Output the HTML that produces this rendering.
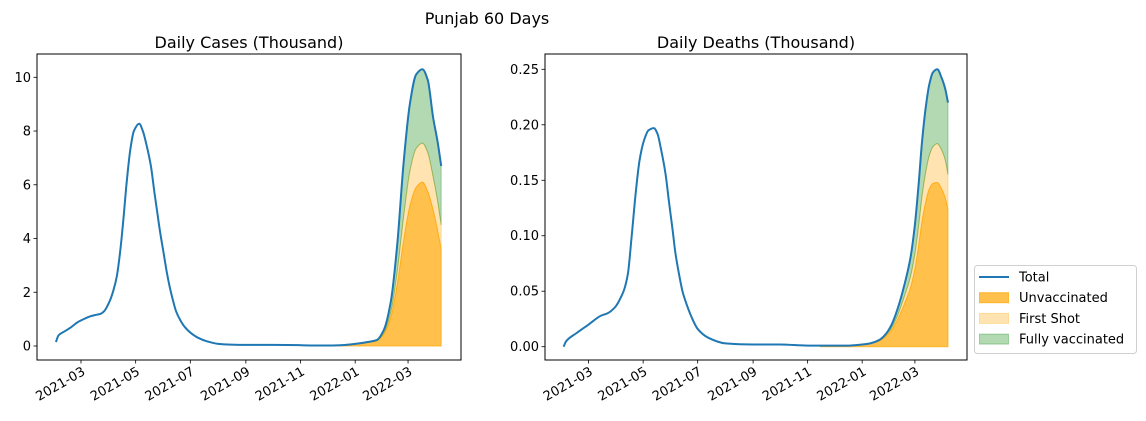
<!DOCTYPE html>
<html><head><meta charset="utf-8">
<style>
html,body{margin:0;padding:0;background:#fff;}
svg{display:block;font-family:"DejaVu Sans","Liberation Sans",sans-serif;}
</style></head>
<body>
<svg id="fig" width="1146" height="421" viewBox="0 0 1146 421" xmlns="http://www.w3.org/2000/svg">
<text x="487" y="24" font-size="16" text-anchor="middle">Punjab 60 Days</text>
</svg>
<script>
// ---- Cases data (thousand) ----
const casesTotalDates = ["2021-02-01","2021-02-04","2021-02-11","2021-02-18","2021-02-25","2021-03-04","2021-03-11","2021-03-18","2021-03-23","2021-03-27","2021-03-30","2021-04-03","2021-04-06","2021-04-10","2021-04-14","2021-04-17","2021-04-21","2021-04-25","2021-04-29","2021-05-05","2021-05-09","2021-05-13","2021-05-18","2021-05-22","2021-05-25","2021-05-28","2021-06-01","2021-06-05","2021-06-08","2021-06-12","2021-06-15","2021-06-20","2021-06-25","2021-07-01","2021-07-10","2021-07-20","2021-08-01","2021-08-15","2021-09-01","2021-10-01","2021-11-01","2021-11-15","2021-12-01","2021-12-15","2022-01-01","2022-01-15","2022-01-25","2022-02-02","2022-02-10","2022-02-17","2022-02-24","2022-03-03","2022-03-10","2022-03-17","2022-03-23","2022-03-29","2022-04-03","2022-04-07"];
const casesTotal = [0.15,0.4,0.55,0.7,0.88,1.0,1.1,1.16,1.2,1.3,1.46,1.75,2.05,2.6,3.6,4.6,6.1,7.3,8.0,8.27,8.0,7.5,6.7,5.7,5.0,4.3,3.5,2.7,2.2,1.65,1.3,0.95,0.7,0.5,0.3,0.17,0.08,0.05,0.04,0.04,0.03,0.02,0.02,0.03,0.08,0.15,0.22,0.6,1.7,3.8,6.8,9.0,10.1,10.3,9.9,8.5,7.6,6.7];
const casesStackDates = ["2021-11-15","2021-12-01","2021-12-15","2022-01-01","2022-01-15","2022-01-25","2022-02-02","2022-02-10","2022-02-17","2022-02-24","2022-03-03","2022-03-10","2022-03-17","2022-03-23","2022-03-29","2022-04-03","2022-04-07"];
const casesUnvac = [0.015,0.02,0.03,0.07,0.13,0.19,0.45,1.1,2.3,3.9,5.2,5.9,6.1,5.75,5.06,4.3,3.6];
const casesFirst = [0.003,0,0,0.005,0.01,0.01,0.05,0.2,0.5,0.9,1.3,1.45,1.45,1.45,1.24,1.1,0.9];
const casesFull = [0.002,0,0,0.005,0.01,0.02,0.1,0.4,1.0,2.0,2.5,2.75,2.75,2.7,2.2,2.2,2.2];
const casesYTicks = [0,2,4,6,8,10];
const casesYLabels = ["0","2","4","6","8","10"];
// ---- Deaths data (thousand) ----
const deathsTotalDates = ["2021-02-01","2021-02-04","2021-02-15","2021-03-01","2021-03-15","2021-03-22","2021-03-31","2021-04-07","2021-04-10","2021-04-14","2021-04-18","2021-04-23","2021-04-27","2021-05-02","2021-05-07","2021-05-13","2021-05-17","2021-05-21","2021-05-26","2021-05-30","2021-06-03","2021-06-06","2021-06-10","2021-06-14","2021-06-17","2021-06-24","2021-07-01","2021-07-13","2021-08-01","2021-09-01","2021-10-01","2021-11-01","2021-11-15","2021-12-01","2021-12-15","2022-01-01","2022-01-10","2022-01-20","2022-01-27","2022-02-03","2022-02-10","2022-02-17","2022-02-24","2022-03-01","2022-03-05","2022-03-09","2022-03-13","2022-03-17","2022-03-21","2022-03-26","2022-03-31","2022-04-04","2022-04-07"];
const deathsTotal = [0,0.005,0.012,0.02,0.028,0.03,0.036,0.046,0.052,0.066,0.098,0.141,0.168,0.186,0.195,0.197,0.192,0.178,0.156,0.13,0.105,0.085,0.066,0.05,0.042,0.027,0.016,0.008,0.003,0.002,0.002,0.001,0.001,0.001,0.001,0.002,0.003,0.006,0.011,0.02,0.035,0.055,0.08,0.11,0.145,0.185,0.215,0.236,0.247,0.25,0.242,0.232,0.22];
const deathsStackDates = ["2021-11-15","2021-12-01","2021-12-15","2022-01-01","2022-01-10","2022-01-20","2022-01-27","2022-02-03","2022-02-10","2022-02-17","2022-02-24","2022-03-01","2022-03-05","2022-03-09","2022-03-13","2022-03-17","2022-03-21","2022-03-26","2022-03-31","2022-04-04","2022-04-07"];
const deathsUnvac = [0.001,0.001,0.001,0.002,0.003,0.005,0.009,0.015,0.025,0.038,0.053,0.07,0.09,0.113,0.13,0.142,0.147,0.148,0.142,0.134,0.123];
const deathsFirst = [0,0,0,0,0,0.0005,0.001,0.002,0.004,0.007,0.01,0.014,0.018,0.023,0.027,0.03,0.033,0.035,0.035,0.034,0.032];
const deathsFull = [0,0,0,0,0,0.0005,0.001,0.003,0.006,0.01,0.017,0.026,0.037,0.049,0.058,0.064,0.067,0.067,0.065,0.064,0.065];
const deathsYTicks = [0,0.05,0.10,0.15,0.20,0.25];
const deathsYLabels = ["0.00","0.05","0.10","0.15","0.20","0.25"];
// ---- shared ----
const xTickDates = ["2021-03-01","2021-05-01","2021-07-01","2021-09-01","2021-11-01","2022-01-01","2022-03-01"];
const xTickLabels = ["2021-03","2021-05","2021-07","2021-09","2021-11","2022-01","2022-03"];

const NS = "http://www.w3.org/2000/svg";
const svg = document.getElementById('fig');
const DAY = 86400000;
const ref = Date.UTC(2021,2,1);
function dnum(s){const p=s.split('-');return (Date.UTC(+p[0],+p[1]-1,+p[2])-ref)/DAY;}
function mk(tag, attrs, parent){const e=document.createElementNS(NS,tag);for(const k in attrs)e.setAttribute(k,attrs[k]);(parent||svg).appendChild(e);return e;}

function monotone(pts){
  const n=pts.length; if(n<2) return '';
  const dx=[],m=[],t=[];
  for(let i=0;i<n-1;i++){dx[i]=pts[i+1][0]-pts[i][0];m[i]=(pts[i+1][1]-pts[i][1])/dx[i];}
  t[0]=m[0];t[n-1]=m[n-2];
  for(let i=1;i<n-1;i++){ t[i]=(m[i-1]*m[i]<=0)?0:(3*(dx[i-1]+dx[i]))/((2*dx[i]+dx[i-1])/m[i-1]+(dx[i]+2*dx[i-1])/m[i]); }
  let d='';
  for(let i=0;i<n-1;i++){
    const h=dx[i];
    d+=' C'+(pts[i][0]+h/3).toFixed(2)+','+(pts[i][1]+t[i]*h/3).toFixed(2)+' '+(pts[i+1][0]-h/3).toFixed(2)+','+(pts[i+1][1]-t[i+1]*h/3).toFixed(2)+' '+pts[i+1][0].toFixed(2)+','+pts[i+1][1].toFixed(2);
  }
  return d;
}
function curve(pts){return 'M'+pts[0][0].toFixed(2)+','+pts[0][1].toFixed(2)+monotone(pts);}

function panel(p){
  const g=mk('g',{});
  
  
  const xs=d=>p.x0+(dnum(d))*p.pxDay;
  const ys=v=>p.yZero-v*p.pxUnit;
  const sd=p.stackDates;
  const lo=[],mid=[],hi=[];
  for(let i=0;i<sd.length;i++){lo.push(p.unvac[i]);mid.push(p.unvac[i]+p.first[i]);hi.push(p.unvac[i]+p.first[i]+p.full[i]);}
  function band(bot,top,fill,op,stroke,nm){
    const tp=sd.map((d,i)=>[xs(d),ys(top[i])]);
    const bp=sd.map((d,i)=>[xs(d),ys(bot[i])]).reverse();
    const d=curve(tp)+' L'+bp[0][0].toFixed(2)+','+bp[0][1].toFixed(2)+monotone(bp)+' Z';
    const e=mk('path',{d:d,fill:fill,'fill-opacity':op,stroke:stroke,'stroke-opacity':op,'stroke-width':1},g);
    
    
  }
  const zeros=sd.map(()=>0);
  band(zeros,lo,'#ffa500',0.7,'#ffa500','unvaccinated-area');
  band(lo,mid,'#ffa500',0.3,'#ffa500','first-shot-area');
  band(mid,hi,'#008000',0.3,'#008000','fully-vaccinated-area');
  const tp=p.totalDates.map((d,i)=>[xs(d),ys(p.total[i])]);
  const tl=mk('path',{d:curve(tp),fill:'none',stroke:'#1f77b4','stroke-width':2,'stroke-linejoin':'round'},g);
  
  
  const fr=mk('rect',{x:p.left,y:54,width:p.right-p.left,height:306,fill:'none',stroke:'#000','stroke-width':1},g);
  
  
  p.yTicks.forEach((v,i)=>{
    const y=ys(v);
    const t=mk('line',{x1:p.left-3.5,x2:p.left,y1:y,y2:y,stroke:'#000','stroke-width':0.8},g);
    
    
    const tx=mk('text',{x:p.left-6,y:y+4.5,'font-size':13,'text-anchor':'end'},g);
    tx.textContent=p.yLabels[i];
    
    
  });
  xTickDates.forEach((d,i)=>{
    const x=xs(d);
    const t=mk('line',{x1:x,x2:x,y1:360,y2:363.5,stroke:'#000','stroke-width':0.8},g);
    
    
    const tx=mk('text',{x:0,y:0,'font-size':13,'text-anchor':'end',transform:'translate('+(x+5)+',374) rotate(-30)'},g);
    tx.textContent=xTickLabels[i];
    
    
  });
  const ti=mk('text',{x:(p.left+p.right)/2,y:48,'font-size':16,'text-anchor':'middle'},g);
  ti.textContent=p.title;
  
  
}

panel({name:'cases-panel',title:'Daily Cases (Thousand)',left:37,right:461,x0:81,pxDay:0.896,yZero:346,pxUnit:26.87,
  totalDates:casesTotalDates,total:casesTotal,stackDates:casesStackDates,unvac:casesUnvac,first:casesFirst,full:casesFull,yTicks:casesYTicks,yLabels:casesYLabels});
panel({name:'deaths-panel',title:'Daily Deaths (Thousand)',left:545,right:967,x0:588.6,pxDay:0.894,yZero:346.7,pxUnit:1109.6,
  totalDates:deathsTotalDates,total:deathsTotal,stackDates:deathsStackDates,unvac:deathsUnvac,first:deathsFirst,full:deathsFull,yTicks:deathsYTicks,yLabels:deathsYLabels});

const lg=mk('g',{});


mk('rect',{x:974.5,y:265.5,width:162,height:88,rx:3,fill:'#fff',stroke:'#d0d0d0','stroke-width':1},lg);
const legNames=['Total','Unvaccinated','First Shot','Fully vaccinated'];
const legKeys=['legend-total','legend-unvaccinated','legend-first-shot','legend-fully-vaccinated'];
legNames.forEach((nm,i)=>{
  const y=277+i*20.7;
  const eg=mk('g',{},lg);
  
  
  if(i===0) mk('line',{x1:979,x2:1009,y1:y,y2:y,stroke:'#1f77b4','stroke-width':2},eg);
  else {
    const f=i===3?'#008000':'#ffa500', o=i===1?0.7:0.3;
    mk('rect',{x:979.5,y:y-5,width:29,height:10,fill:f,'fill-opacity':o,stroke:f,'stroke-opacity':o},eg);
  }
  const t=mk('text',{x:1019,y:y+4.5,'font-size':13},eg);
  t.textContent=nm;
});
</script>
</body></html>
